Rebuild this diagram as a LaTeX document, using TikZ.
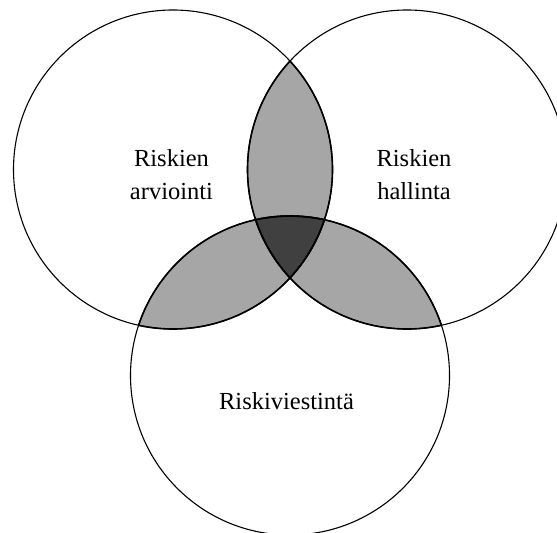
\documentclass[tikz,border=0pt]{standalone}
\usepackage{fontspec}
\setmainfont{Liberation Serif}
\definecolor{lensgray}{RGB}{166,166,166}
\definecolor{coregray}{RGB}{64,64,64}
\begin{document}
\begin{tikzpicture}[x=1bp,y=-1bp,
  ring/.style={draw=black,line width=1.1bp},
  lensline/.style={draw=black,line width=1.6bp},
  label/.style={font=\fontsize{24.5bp}{33bp}\selectfont,align=center,inner sep=0pt}]
\useasboundingbox (0,0) rectangle (557,533);
\clip (0,0) rectangle (557,533);
\def\rad{159.5}
% circle centres
\coordinate (cl) at (173,169.5);
\coordinate (cr) at (407,169.5);
\coordinate (cb) at (290,375.5);

% pairwise overlaps
\begin{scope}
  \clip (cl) circle[radius=\rad];
  \fill[lensgray] (cr) circle[radius=\rad];
  \fill[lensgray] (cb) circle[radius=\rad];
\end{scope}
\begin{scope}
  \clip (cr) circle[radius=\rad];
  \fill[lensgray] (cb) circle[radius=\rad];
\end{scope}
% common overlap of all three
\begin{scope}
  \clip (cl) circle[radius=\rad];
  \clip (cr) circle[radius=\rad];
  \fill[coregray] (cb) circle[radius=\rad];
\end{scope}

% outer rings
\draw[ring] (cl) circle[radius=\rad];
\draw[ring] (cr) circle[radius=\rad];
\draw[ring] (cb) circle[radius=\rad];

% heavier edges around the overlaps
\begin{scope}
  \clip (cl) circle[radius=\rad];
  \draw[lensline] (cr) circle[radius=\rad];
  \draw[lensline] (cb) circle[radius=\rad];
\end{scope}
\begin{scope}
  \clip (cr) circle[radius=\rad];
  \draw[lensline] (cl) circle[radius=\rad];
  \draw[lensline] (cb) circle[radius=\rad];
\end{scope}
\begin{scope}
  \clip (cb) circle[radius=\rad];
  \draw[lensline] (cl) circle[radius=\rad];
  \draw[lensline] (cr) circle[radius=\rad];
\end{scope}

% labels
\node[label] (tl) at (171.5,174.5) {Riskien\\arviointi};
\node[label] (tr) at (414,174.5) {Riskien\\hallinta};
\node[label,anchor=base] (tb) at (286.5,409) {Riskiviestintä};
\end{tikzpicture}
\end{document}
